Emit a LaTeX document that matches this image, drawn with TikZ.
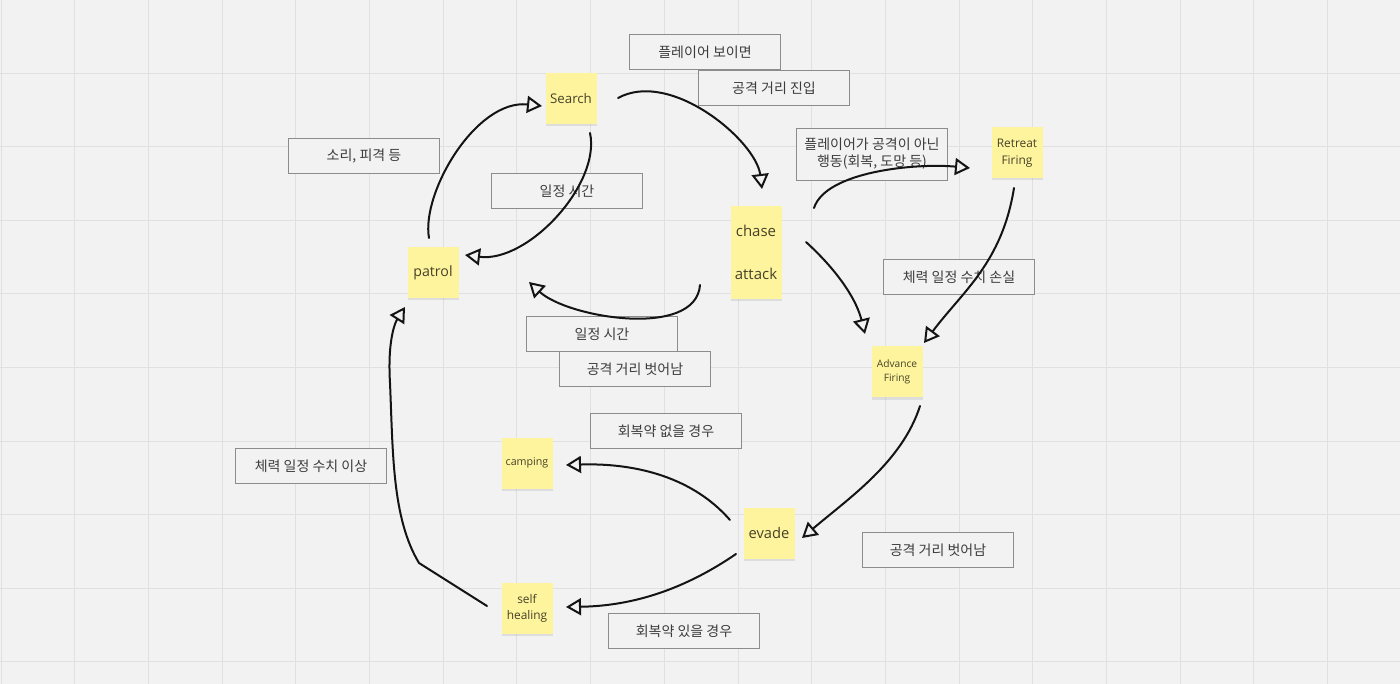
\documentclass[tikz,border=0pt]{standalone}
\usepackage{fontspec}
\setmainfont{Open Sans}
\newfontfamily\kr{Noto Sans CJK KR}
\usetikzlibrary{arrows.meta,shadows,calc}
\definecolor{bgc}{RGB}{242,242,242}
\definecolor{gridc}{RGB}{224,224,224}
\definecolor{stickyc}{RGB}{254,244,158}
\definecolor{lblc}{RGB}{140,140,140}
\definecolor{txtc}{RGB}{60,60,60}
\definecolor{stxt}{RGB}{70,66,40}
\definecolor{inkc}{RGB}{20,20,20}
\begin{document}
\begin{tikzpicture}[x=1pt,y=-1pt,
  sticky/.style={fill=stickyc, minimum width=51pt, minimum height=51pt, inner sep=0pt,
    align=center, text=stxt, drop shadow={opacity=0.18, shadow xshift=0pt, shadow yshift=-2pt}},
  lbl/.style={draw=lblc, fill=bgc, line width=0.8pt, minimum width=151pt, minimum height=35pt,
    inner sep=0pt, align=center, text=txtc, font=\kr\fontsize{14}{17}\selectfont},
  ink/.style={draw=inkc, line width=2pt, line cap=round,
    -{Triangle[open, length=15pt, width=17pt, line width=2pt]}}]
\useasboundingbox (0,0) rectangle (1400,684);
\fill[bgc] (0,0) rectangle (1400,684);
\foreach \i in {0,...,19} \draw[gridc, line width=1pt] ({1+73.7*\i},0) -- ({1+73.7*\i},684);
\foreach \j in {1,...,9} \draw[gridc, line width=1pt] (0,{73.5*\j}) -- (1400,{73.5*\j});

% labels
\node[lbl] (l1) at (705,52) {플레이어 보이면};
\node[lbl] (l2) at (774,88) {공격 거리 진입};
\node[lbl, minimum height=52pt, font=\kr\fontsize{14}{17}\selectfont] (l3) at (872,154) {플레이어가 공격이 아닌\\행동(회복, 도망 등)};
\node[lbl] (l4) at (364,156) {소리, 피격 등};
\node[lbl] (l5) at (567,191) {일정 시간};
\node[lbl] (l6) at (959,277) {체력 일정 수치 손실};
\node[lbl] (l7) at (602,334) {일정 시간};
\node[lbl] (l8) at (635,369) {공격 거리 벗어남};
\node[lbl] (l9) at (666,431) {회복약 없을 경우};
\node[lbl] (l10) at (311,466) {체력 일정 수치 이상};
\node[lbl] (l11) at (938,550) {공격 거리 벗어남};
\node[lbl] (l12) at (684,631) {회복약 있을 경우};

% stickies
\node[sticky, font=\fontsize{13.3}{14}\selectfont] (search) at (571,99) {Search};
\node[sticky, font=\fontsize{14.2}{16}\selectfont] (patrol) at (433,273) {patrol};
\node[sticky, minimum height=50pt, font=\fontsize{15}{16}\selectfont] (chase) at (756,231) {chase};
\node[sticky, minimum height=50pt, font=\fontsize{15}{16}\selectfont] (attack) at (756,274) {attack};
\node[sticky, font=\fontsize{11.9}{16.5}\selectfont] (retreat) at (1017,153) {Retreat\\Firing};
\node[sticky, font=\fontsize{10.2}{14}\selectfont] (advance) at (897,372) {Advance\\Firing};
\node[sticky, font=\fontsize{10.7}{12}\selectfont] (camping) at (527,463) {camping};
\node[sticky, font=\fontsize{14.7}{16}\selectfont] (evade) at (769,533) {evade};
\node[sticky, font=\fontsize{11.9}{16}\selectfont] (heal) at (527,608) {self\\healing};

% connectors
\draw[ink] ($(patrol)+(-4,-35)$) .. controls ($(patrol)+(-12,-80)$) and ($(search)+(-95,0)$) .. ($(search)+(-29,7)$);
\draw[ink] ($(search)+(19,34)$) .. controls ($(search)+(30,85)$) and ($(patrol)+(95,-10)$) .. ($(patrol)+(32,-18)$);
\draw[ink] ($(search)+(47,-1)$) .. controls ($(search)+(100,-30)$) and ($(chase)+(0,-90)$) .. ($(chase)+(6,-42)$);
\draw[ink] ($(chase)+(58,-23)$) .. controls ($(chase)+(70,-60)$) and ($(retreat)+(-100,10)$) .. ($(retreat)+(-47,15)$);
\draw[ink] ($(attack)+(50,-32)$) .. controls ($(attack)+(85,0)$) and ($(advance)+(-40,-70)$) .. ($(advance)+(-32,-38)$);
\draw[ink] ($(retreat)+(-3,35)$) .. controls ($(retreat)+(-15,110)$) and ($(advance)+(65,-80)$) .. ($(advance)+(27,-29)$);
\draw[ink] ($(attack)+(-56,11)$) .. controls ($(attack)+(-60,65)$) and ($(patrol)+(135,45)$) .. ($(patrol)+(96,9)$);
\draw[ink] ($(advance)+(23,34)$) .. controls ($(advance)+(5,90)$) and ($(evade)+(80,-35)$) .. ($(evade)+(33,5)$);
\draw[ink] ($(evade)+(-39,-13)$) .. controls ($(evade)+(-80,-60)$) and ($(camping)+(100,0)$) .. ($(camping)+(39,2)$);
\draw[ink] ($(evade)+(-33,21)$) .. controls ($(evade)+(-90,60)$) and ($(heal)+(100,-2)$) .. ($(heal)+(39,-1)$);
\draw[ink] ($(heal)+(-40,-2)$) -- ($(heal)+(-108,-45)$) .. controls ($(heal)+(-135,-90)$) and ($(patrol)+(-40,180)$) .. ($(patrol)+(-43,110)$) .. controls ($(patrol)+(-46,60)$) and ($(patrol)+(-35,45)$) .. ($(patrol)+(-28,34)$);
\end{tikzpicture}
\end{document}
